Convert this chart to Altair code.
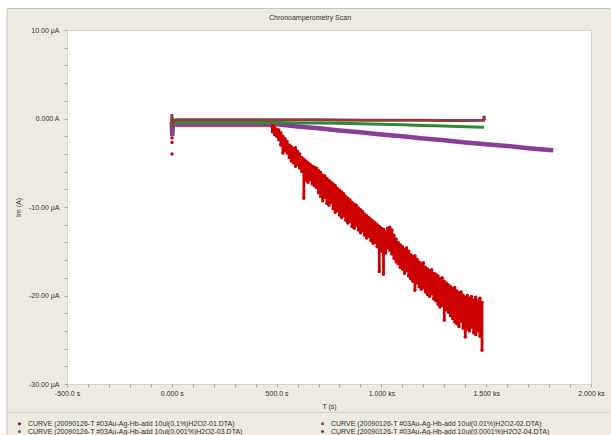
import altair as alt
import pandas as pd

NAMES = [
    "CURVE (20090126-T #03Au-Ag-Hb-add 10ul(0.1%)H2O2-01.DTA)",
    "CURVE (20090126-T #03Au-Ag-Hb-add 10ul(0.01%)H2O2-02.DTA)",
    "CURVE (20090126-T #03Au-Ag-Hb-add 10ul(0.001%)H2O2-03.DTA)",
    "CURVE (20090126-T #03Au-Ag-Hb-add 10ul(0.0001%)H2O2-04.DTA)",
]
COLORS = ["#CC0000", "#8B3E98", "#2F8A34", "#8E3E3E"]
TITLE = "Chronoamperometry Scan"

X_TICKS = [-500, -400, -300, -200, -100, 0, 100, 200, 300, 400, 500, 600, 700, 800, 900,
           1000, 1100, 1200, 1300, 1400, 1500, 1600, 1700, 1800, 1900, 2000]
X_LABEL_VALUES = [-500, 0, 500, 1000, 1500, 2000]
X_LABELS = ["-500.0 s", "0.000 s", "500.0 s", "1.000 ks", "1.500 ks", "2.000 ks"]
Y_TICKS = [-30, -28, -26, -24, -22, -20, -18, -16, -14, -12, -10, -8, -6, -4, -2,
           0, 2, 4, 6, 8, 10]
Y_LABEL_VALUES = [10, 0, -10, -20, -30]
Y_LABELS = ["10.00 µA", "0.000 A", "-10.00 µA", "-20.00 µA", "-30.00 µA"]

red_flat_t = [0, 2, 5, 20, 100, 200, 300, 400, 470, 480]
red_flat_v = [-0.3, -1.5, -0.8, -0.8, -0.8, -0.75, -0.8, -0.8, -0.8, -1.0]
red_spike_t = [1, 1, 1]
red_spike_v = [-2.2, -2.7, -4.0]

red_t = [480, 490, 500, 510, 520, 530, 540, 550, 560, 570,
         580, 590, 600, 610, 620, 630, 640, 650, 660, 670,
         680, 690, 700, 710, 720, 730, 740, 750, 760, 770,
         780, 790, 800, 810, 820, 830, 840, 850, 860, 870,
         880, 890, 900, 910, 920, 930, 940, 950, 960, 970,
         980, 990, 1000, 1010, 1020, 1030, 1040, 1050, 1060, 1070,
         1080, 1090, 1100, 1110, 1120, 1130, 1140, 1150, 1160, 1170,
         1180, 1190, 1200, 1210, 1220, 1230, 1240, 1250, 1260, 1270,
         1280, 1290, 1300, 1310, 1320, 1330, 1340, 1350, 1360, 1370,
         1380, 1390, 1400, 1410, 1420, 1430, 1440, 1450, 1460, 1470,
         1480]
red_hi = [-0.8, -1.0, -1.2, -1.3, -1.6, -2.0, -2.3, -2.6, -3.0, -3.2,
          -3.4, -3.3, -3.7, -4.0, -4.4, -4.6, -4.8, -5.0, -5.2, -5.4,
          -5.5, -5.6, -5.9, -6.1, -6.4, -6.5, -6.8, -7.0, -7.2, -7.4,
          -7.6, -7.9, -8.1, -8.3, -8.5, -8.8, -9.0, -9.2, -9.5, -9.7,
          -9.8, -10.1, -10.3, -10.5, -10.8, -11.0, -11.2, -11.4, -11.6, -11.8,
          -12.0, -12.2, -12.4, -12.5, -12.8, -12.4, -12.3, -12.6, -13.2, -13.6,
          -14.0, -14.3, -14.5, -14.8, -14.6, -15.0, -15.4, -15.6, -15.5, -15.9,
          -16.2, -16.4, -16.3, -16.8, -17.0, -17.2, -17.1, -17.5, -17.6, -17.8,
          -18.1, -18.0, -18.4, -18.6, -18.8, -19.0, -19.2, -19.1, -19.5, -19.7,
          -19.6, -20.0, -20.2, -20.0, -20.3, -20.1, -20.5, -20.2, -20.6, -20.3,
          -20.8]
red_lo = [-1.5, -1.8, -2.0, -2.4, -3.0, -3.9, -3.6, -3.9, -4.4, -4.8,
          -5.0, -5.4, -5.2, -5.6, -6.0, -9.0, -7.0, -7.2, -6.9, -7.4,
          -7.6, -7.8, -8.4, -8.8, -9.3, -8.9, -9.6, -9.8, -9.5, -10.2,
          -10.6, -10.4, -10.9, -11.2, -11.0, -11.5, -11.8, -11.6, -12.2, -12.4,
          -12.1, -12.6, -12.9, -12.7, -13.2, -13.5, -13.3, -13.8, -14.1, -14.0,
          -14.5, -17.3, -15.0, -17.6, -15.2, -14.6, -14.9, -15.3, -15.8, -16.2,
          -16.4, -16.8, -17.0, -17.5, -17.2, -17.8, -18.1, -18.4, -19.4, -18.6,
          -19.0, -19.3, -19.1, -19.6, -19.9, -20.1, -19.8, -20.4, -20.6, -21.0,
          -21.3, -21.1, -22.8, -21.6, -21.9, -22.3, -22.6, -23.0, -23.2, -23.5,
          -22.9, -23.7, -24.7, -23.8, -24.0, -23.6, -24.2, -24.4, -24.0, -24.6,
          -26.2]

purple_t = [0, 2, 6, 20, 100, 200, 300, 400, 480, 600, 700, 800, 900, 1000,
            1100, 1200, 1300, 1400, 1500, 1600, 1700, 1800, 1820]
purple_v = [-0.4, -2.0, -0.7, -0.6, -0.6, -0.6, -0.6, -0.6, -0.6, -0.9, -1.1, -1.35, -1.55, -1.8,
            -2.0, -2.25, -2.45, -2.7, -2.9, -3.1, -3.35, -3.55, -3.6]

green_t = [0, 2, 6, 20, 100, 200, 300, 400, 500, 600, 700, 800, 900, 1000,
           1100, 1200, 1300, 1400, 1490]
green_v = [0.2, -1.2, -0.5, -0.45, -0.45, -0.45, -0.45, -0.45, -0.45, -0.5, -0.5, -0.55, -0.6, -0.65,
           -0.7, -0.78, -0.85, -0.92, -1.0]

brown_t = [0, 2, 6, 20, 100, 200, 300, 400, 500, 600, 700, 800, 900, 1000,
           1100, 1200, 1300, 1400, 1488, 1490, 1492]
brown_v = [0.5, -1.0, -0.2, -0.15, -0.15, -0.15, -0.15, -0.15, -0.15, -0.15, -0.15, -0.18, -0.2, -0.2,
           -0.2, -0.2, -0.22, -0.22, -0.2, 0.3, -0.2]

FONT = "Liberation Sans"
TXT = "#333333"

xs = alt.Scale(domain=[-500, 2000], nice=False, zero=False)
ys = alt.Scale(domain=[-30, 10], nice=False, zero=False)

x_map = "{" + ",".join(f"'{v}':'{l}'" for v, l in zip(X_LABEL_VALUES, X_LABELS)) + "}"
y_map = "{" + ",".join(f"'{v}':'{l}'" for v, l in zip(Y_LABEL_VALUES, Y_LABELS)) + "}"

x_axis = alt.Axis(values=X_TICKS, labelExpr=f"{x_map}[''+datum.value] || ''",
                  tickSize=3, tickColor="#A8A8A8", domain=False, grid=False,
                  labelFlush=False, labelOverlap=False, labelBound=False,
                  labelPadding=2, labelFontSize=7, labelFont=FONT, labelColor=TXT,
                  title="T (s)", titleFont=FONT, titleFontSize=7, titleFontWeight="normal",
                  titleColor=TXT, titleY=22, titleBaseline="middle")
y_axis = alt.Axis(values=Y_TICKS, labelExpr=f"{y_map}[''+datum.value] || ''",
                  tickSize=3, tickColor="#A8A8A8", domain=False, grid=False,
                  labelFlush=False, labelOverlap=False, labelBound=False,
                  labelPadding=5, labelFontSize=7, labelFont=FONT, labelColor=TXT,
                  title="Im (A)", titleFont=FONT, titleFontSize=7, titleFontWeight="normal",
                  titleColor=TXT, titleX=-49, titleY=177, titleAngle=270,
                  titleBaseline="middle", titleAlign="center")


def line_layer(t, v, color, width):
    df = pd.DataFrame({"t": t, "v": v})
    return alt.Chart(df).mark_line(strokeWidth=width, color=color).encode(
        x=alt.X("t:Q", scale=xs, axis=x_axis),
        y=alt.Y("v:Q", scale=ys, axis=y_axis),
    )

red_line = line_layer(red_flat_t, red_flat_v, COLORS[0], 2.5)
purple_line = line_layer(purple_t, purple_v, COLORS[1], 4.5)
green_line = line_layer(green_t, green_v, COLORS[2], 3)
brown_line = line_layer(brown_t, brown_v, COLORS[3], 3)

band_df = pd.DataFrame({"t": red_t, "lo": red_lo, "hi": red_hi})
red_band = alt.Chart(band_df).mark_rule(strokeWidth=2.8, color=COLORS[0]).encode(
    x=alt.X("t:Q", scale=xs, axis=x_axis),
    y=alt.Y("lo:Q", scale=ys, axis=y_axis),
    y2="hi:Q",
)

pts_df = pd.concat([
    pd.DataFrame({"series": NAMES[0], "t": red_t, "v": red_lo}),
    pd.DataFrame({"series": NAMES[0], "t": red_t, "v": red_hi}),
    pd.DataFrame({"series": NAMES[0], "t": red_spike_t, "v": red_spike_v}),
], ignore_index=True)

legend = alt.Legend(title=None, orient="none", legendX=-51, legendY=390, columns=2,
                    direction="horizontal",
                    columnPadding=76, rowPadding=0, symbolType="circle", symbolSize=10,
                    symbolStrokeWidth=0, labelFont=FONT, labelFontSize=7, labelColor=TXT,
                    labelLimit=400, labelOffset=5)
red_pts = alt.Chart(pts_df).mark_circle(size=12, opacity=1).encode(
    x=alt.X("t:Q", scale=xs, axis=x_axis),
    y=alt.Y("v:Q", scale=ys, axis=y_axis),
    color=alt.Color("series:N", scale=alt.Scale(domain=NAMES, range=COLORS), legend=legend),
)

deco = pd.DataFrame({"k": [0]})
frame = [
    alt.Chart(deco).mark_rect(color="white").encode(
        x=alt.value(-67), x2=alt.value(544), y=alt.value(-30), y2=alt.value(-22)),
    alt.Chart(deco).mark_rect(color="white").encode(
        x=alt.value(-67), x2=alt.value(-60), y=alt.value(-30), y2=alt.value(404)),
    alt.Chart(deco).mark_rule(color="#C9C5BA", strokeWidth=1).encode(
        x=alt.value(-60), x2=alt.value(543), y=alt.value(-21.5)),
    alt.Chart(deco).mark_rule(color="#C9C5BA", strokeWidth=1).encode(
        x=alt.value(-60), y=alt.value(-21.5), y2=alt.value(404)),
    alt.Chart(deco).mark_rule(color="#D6D2C6", strokeWidth=1).encode(
        x=alt.value(-60), x2=alt.value(543), y=alt.value(382.5)),
]
title_df = pd.DataFrame({"label": [TITLE]})
title = alt.Chart(title_df).mark_text(font=FONT, fontSize=7, color=TXT,
                                      align="center", baseline="middle").encode(
    text="label:N", x=alt.value(243), y=alt.value(-12))

chart = alt.layer(
    *frame, title, red_line, purple_line, green_line, brown_line, red_band, red_pts
).properties(
    width=524, height=354,
    autosize=alt.AutoSizeParams(type="none"),
    padding={"left": 67, "top": 30, "right": 20, "bottom": 51},
).configure(background="#EDEAE0").configure_view(fill="white", stroke="#D8D4C8")

chart.save("out.html", embed_options={"renderer": "svg", "actions": False})
